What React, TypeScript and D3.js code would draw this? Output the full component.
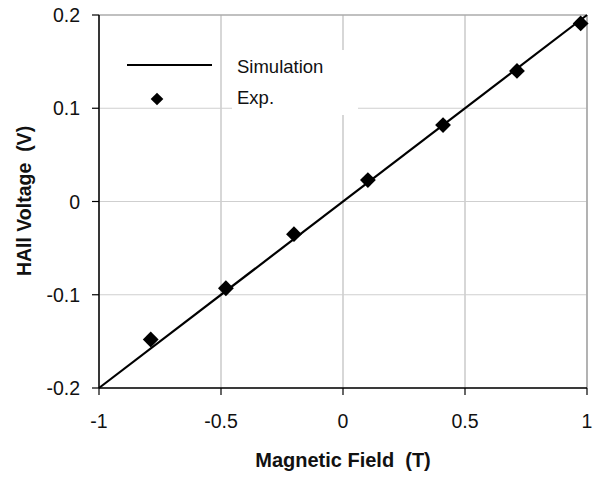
import React from "react";
import * as d3 from "d3";

// Magnetic field (T) and measured Hall voltage (V)
const expField = [-0.788, -0.48, -0.201, 0.102, 0.41, 0.713, 0.974];
const expVoltage = [-0.148, -0.093, -0.035, 0.023, 0.082, 0.14, 0.191];

// Simulated linear response
const simField = [-1, 1];
const simVoltage = [-0.2, 0.2];

const xTicks = [-1, -0.5, 0, 0.5, 1];
const yTicks = [-0.2, -0.1, 0, 0.1, 0.2];

const W = 595;
const H = 477;
const left = 99;
const right = 587;
const top = 15;
const bottom = 388;

export default function App() {
  const x = d3.scaleLinear().domain([-1, 1]).range([left, right]);
  const y = d3.scaleLinear().domain([-0.2, 0.2]).range([bottom, top]);
  const line = d3
    .line<number>()
    .x((d) => x(d))
    .y((_, i) => y(simVoltage[i]));
  const diamond = d3.symbol().type(d3.symbolSquare).size(125)();
  const font = "'Liberation Sans', Arial, sans-serif";
  const fmt = (v: number) => (v === 0 ? "0" : String(v));

  return (
    <svg
      width={W}
      height={H}
      style={{ position: "absolute", left: 0, top: 0, background: "#fff" }}
      fontFamily={font}
    >
      {/* grid */}
      {xTicks.map((t) => (
        <line key={"gx" + t} x1={x(t)} x2={x(t)} y1={top} y2={bottom} stroke="#bdbdbd" strokeWidth={1.2} />
      ))}
      {yTicks.map((t) => (
        <line key={"gy" + t} x1={left} x2={right} y1={y(t)} y2={y(t)} stroke="#cfcfcf" strokeWidth={1.2} />
      ))}
      <line x1={left} x2={right} y1={top} y2={top} stroke="#9a9a9a" strokeWidth={1.2} />
      <line x1={right} x2={right} y1={top} y2={bottom} stroke="#9a9a9a" strokeWidth={1.2} />

      {/* legend background */}
      <rect x={232} y={50} width={126} height={65} fill="#fff" />

      {/* axes */}
      <line x1={left} x2={left} y1={top} y2={bottom} stroke="#000" strokeWidth={1.5} />
      <line x1={left} x2={right} y1={bottom} y2={bottom} stroke="#000" strokeWidth={1.5} />
      {yTicks.map((t) => (
        <g key={"ty" + t}>
          <line x1={left - 7} x2={left} y1={y(t)} y2={y(t)} stroke="#000" strokeWidth={1.2} />
          <text x={80} y={y(t) + 7} fontSize={19.5} textAnchor="end" fill="#111">
            {fmt(t)}
          </text>
        </g>
      ))}
      {xTicks.map((t) => (
        <g key={"tx" + t}>
          <line x1={x(t)} x2={x(t)} y1={bottom} y2={bottom + 7} stroke="#000" strokeWidth={1.2} />
          <text x={x(t)} y={428} fontSize={19.5} textAnchor="middle" fill="#111">
            {fmt(t)}
          </text>
        </g>
      ))}

      {/* simulation line */}
      <path d={line(simField) || ""} fill="none" stroke="#000" strokeWidth={2.2} />

      {/* experimental points */}
      {expField.map((f, i) => (
        <path
          key={"p" + i}
          d={diamond || ""}
          transform={`translate(${x(f)},${y(expVoltage[i])}) rotate(45)`}
          fill="#000"
        />
      ))}

      {/* legend */}
      <line x1={127} x2={212} y1={65} y2={65} stroke="#000" strokeWidth={2} />
      <path d={diamond || ""} transform="translate(157,99) rotate(45) scale(0.8)" fill="#000" />
      <text x={237} y={73} fontSize={18.5} fill="#111">Simulation</text>
      <text x={237} y={104} fontSize={18.5} fill="#111">Exp.</text>

      {/* axis titles */}
      <text
        x={343}
        y={467}
        fontSize={20}
        fontWeight="bold"
        textAnchor="middle"
        fill="#111"
        style={{ whiteSpace: "pre" }}
      >
        {"Magnetic Field  (T)"}
      </text>
      <text
        transform="translate(31,201) rotate(-90)"
        fontSize={19.5}
        fontWeight="bold"
        textAnchor="middle"
        fill="#111"
        style={{ whiteSpace: "pre" }}
      >
        {"HAll Voltage  (V)"}
      </text>
    </svg>
  );
}
